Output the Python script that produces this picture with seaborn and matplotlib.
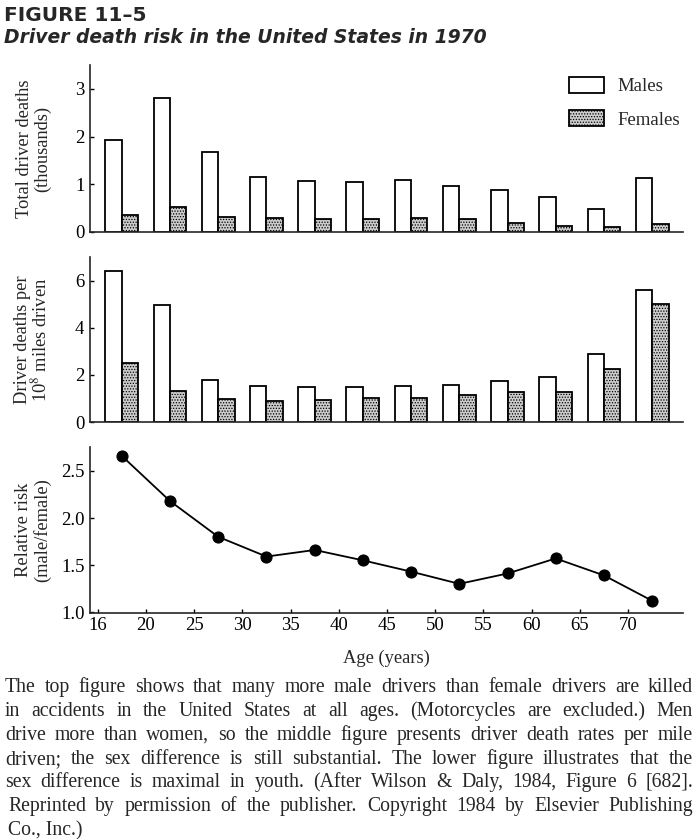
import pandas as pd
import seaborn as sns
import matplotlib.pyplot as plt
from matplotlib.patches import Patch

# age groups 16-19, 20-24, ..., 70-74 (plotted at group midpoints)
age_mid = [17.5, 22.5, 27.5, 32.5, 37.5, 42.5, 47.5, 52.5, 57.5, 62.5, 67.5, 72.5]
age_labels = ["16", "20", "25", "30", "35", "40", "45", "50", "55", "60", "65", "70"]

# total driver deaths (thousands)
male_deaths = [1.93, 2.80, 1.67, 1.16, 1.06, 1.05, 1.10, 0.96, 0.88, 0.74, 0.49, 1.14]
female_deaths = [0.36, 0.53, 0.32, 0.29, 0.28, 0.28, 0.30, 0.28, 0.18, 0.13, 0.11, 0.17]

# driver deaths per 10^8 miles driven
male_rate = [6.40, 4.98, 1.80, 1.54, 1.49, 1.49, 1.53, 1.58, 1.72, 1.91, 2.89, 5.62]
female_rate = [2.50, 1.32, 0.97, 0.88, 0.95, 1.00, 1.00, 1.15, 1.26, 1.26, 2.24, 4.99]

# relative risk (male/female)
relative_risk = [2.66, 2.18, 1.80, 1.59, 1.66, 1.55, 1.43, 1.30, 1.41, 1.57, 1.39, 1.12]

caption = [
    "The top figure shows that many more male drivers than female drivers are killed",
    "in accidents in the United States at all ages. (Motorcycles are excluded.) Men",
    "drive more than women, so the middle figure presents driver death rates per mile",
    "driven; the sex difference is still substantial. The lower figure illustrates that the",
    "sex difference is maximal in youth. (After Wilson & Daly, 1984, Figure 6 [682].",
    "Reprinted by permission of the publisher. Copyright 1984 by Elsevier Publishing",
    "Co., Inc.)",
]

sns.set_style("ticks")
plt.rcParams["font.family"] = ["Liberation Serif", "DejaVu Serif"]
plt.rcParams["mathtext.fontset"] = "stix"
plt.rcParams["hatch.linewidth"] = 0.6
plt.rcParams["axes.linewidth"] = 1.2

W, H = 699, 839
fig = plt.figure(figsize=(W / 100, H / 100), dpi=100)

def px_axes(left, top, right, bottom):
    return fig.add_axes([left / W, 1 - bottom / H, (right - left) / W, (bottom - top) / H])

ax1 = px_axes(90, 65, 683, 232)
ax2 = px_axes(90, 257, 683, 422)
ax3 = px_axes(90, 447, 683, 613)

male_fill, female_fill = "white", "#cccccc"
palette = {"Males": male_fill, "Females": female_fill}

def bars(ax, male, female):
    df = pd.DataFrame({
        "age": age_mid * 2,
        "sex": ["Males"] * len(male) + ["Females"] * len(female),
        "value": male + female,
    })
    sns.barplot(data=df, x="age", y="value", hue="sex", hue_order=["Males", "Females"],
                palette=palette, native_scale=True, width=0.68, edgecolor="black",
                linewidth=1.3, errorbar=None, legend=False, ax=ax)
    for p in ax.patches:
        if p.get_facecolor()[0] < 0.99:
            p.set_hatch("......")
    ax.set_xticks([])
    ax.set_xlabel("")

bars(ax1, male_deaths, female_deaths)
bars(ax2, male_rate, female_rate)

sns.lineplot(x=age_mid, y=relative_risk, marker="o", markersize=8, color="black",
             markeredgecolor="black", linewidth=1.3, ax=ax3)

for ax in (ax1, ax2, ax3):
    ax.set_xlim(14.2, 75.7)
    sns.despine(ax=ax)
    ax.tick_params(direction="in", length=3, width=1, labelsize=13.5, pad=4, colors="black")

ax1.set_ylim(0, 3.5)
ax1.set_yticks([0, 1, 2, 3])
ax2.set_ylim(0, 7.0)
ax2.set_yticks([0, 2, 4, 6])
ax3.set_ylim(0.99, 2.755)
ax3.set_yticks([1.0, 1.5, 2.0, 2.5])
ax3.set_yticklabels(["1.0", "1.5", "2.0", "2.5"])
ax3.set_xticks([15 + 5 * i for i in range(len(age_labels))])
ax3.set_xticklabels(age_labels)
ax3.tick_params(axis="x", pad=3)

ax1.set_ylabel("Total driver deaths\n(thousands)", fontsize=13.3, linespacing=1.05)
ax2.set_ylabel("Driver deaths per\n10$^8$ miles driven", fontsize=13.3, linespacing=1.0)
ax3.set_ylabel("Relative risk\n(male/female)", fontsize=13.3, linespacing=1.05)
for ax in (ax1, ax2, ax3):
    ax.yaxis.set_label_coords(-0.066, 0.5)
ax3.set_xlabel("Age (years)", fontsize=13.3)
ax3.xaxis.set_label_coords(0.5, -0.22)

handles = [
    Patch(facecolor=male_fill, edgecolor="black", linewidth=1.3, label="Males"),
    Patch(facecolor=female_fill, edgecolor="black", linewidth=1.3, hatch="......", label="Females"),
]
ax1.legend(handles=handles, loc="upper left", bbox_to_anchor=(0.808, 0.93), frameon=False,
           fontsize=13.5, handlelength=1.85, handleheight=0.95, labelspacing=0.8,
           handletextpad=0.7, borderpad=0, borderaxespad=0)

fig.text(4 / W, 1 - 21 / H, "FIGURE 11–5", fontsize=14.5, fontweight="bold",
         family="DejaVu Sans", va="baseline")
fig.text(4 / W, 1 - 43 / H, "Driver death risk in the United States in 1970", fontsize=13.5,
         fontweight="bold", fontstyle="italic", family="DejaVu Sans", va="baseline")

# justified caption lines
renderer = fig.canvas.get_renderer()
baselines = [692, 716, 740, 764, 787, 811, 835]
for i, (line, base) in enumerate(zip(caption, baselines)):
    x0 = 8 if i >= 5 else 5
    words = line.split(" ")
    texts = [fig.text(0, 1 - base / H, w, fontsize=14.2, va="baseline") for w in words]
    if i == len(caption) - 1:
        texts[0].set_text(line)
        texts[0].set_x(x0 / W)
        for t in texts[1:]:
            t.remove()
        continue
    widths = [t.get_window_extent(renderer).width for t in texts]
    gap = max((693 - x0 - sum(widths)) / (len(words) - 1), 3)
    x = x0
    for t, w in zip(texts, widths):
        t.set_x(x / W)
        x += w + gap

fig.savefig("out.png", dpi=100)
